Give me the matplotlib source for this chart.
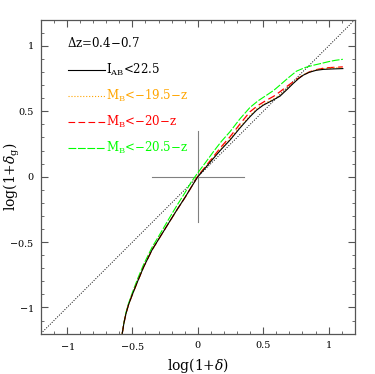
import matplotlib
matplotlib.use('Agg')
import matplotlib.pyplot as plt
import numpy as np
from matplotlib.ticker import MultipleLocator

plt.rcParams['font.family'] = ['DejaVu Serif']
plt.rcParams['mathtext.fontset'] = 'dejavuserif'

# log(1+delta) vs log(1+delta_g)
x_low = [-0.578, -0.565, -0.55, -0.53, -0.5, -0.46, -0.414, -0.35, -0.287, -0.22, -0.16, -0.1, -0.05]
y_iab_low = [-1.2, -1.12, -1.05, -0.98, -0.9, -0.8, -0.69, -0.56, -0.458, -0.35, -0.254, -0.162, -0.08]
y_g_low = [-1.2, -1.115, -1.04, -0.97, -0.885, -0.78, -0.67, -0.54, -0.435, -0.32, -0.22, -0.125, -0.04]

x_iab = x_low + [0.0, 0.06, 0.119, 0.18, 0.246, 0.32, 0.398, 0.45, 0.5, 0.56, 0.627, 0.68,
                 0.728, 0.77, 0.805, 0.85, 0.906, 0.96, 1.0, 1.05, 1.109]
y_iab = y_iab_low + [0.0, 0.07, 0.14, 0.21, 0.28, 0.37, 0.458, 0.51, 0.547, 0.578, 0.615, 0.665,
                     0.712, 0.75, 0.776, 0.798, 0.814, 0.821, 0.823, 0.825, 0.827]

x_m195 = x_iab
y_m195 = y_iab_low + [0.004, 0.075, 0.145, 0.217, 0.288, 0.378, 0.466, 0.518, 0.553, 0.585, 0.62, 0.668,
                      0.715, 0.753, 0.779, 0.801, 0.818, 0.826, 0.829, 0.832, 0.835]

x_m20 = x_low + [0.0, 0.06, 0.119, 0.18, 0.246, 0.32, 0.398, 0.46, 0.525, 0.58, 0.627, 0.68,
                 0.728, 0.77, 0.805, 0.85, 0.906, 0.96, 1.0, 1.05, 1.109]
y_m20 = y_iab_low + [0.005, 0.08, 0.153, 0.23, 0.305, 0.40, 0.496, 0.545, 0.585, 0.615, 0.649, 0.69,
                     0.725, 0.755, 0.776, 0.80, 0.819, 0.83, 0.834, 0.837, 0.840]

x_m205 = x_low + [0.0, 0.06, 0.119, 0.18, 0.246, 0.32, 0.398, 0.46, 0.525, 0.58, 0.627, 0.69,
                  0.754, 0.82, 0.881, 0.95, 1.0, 1.05, 1.109]
y_m205 = y_g_low + [0.03, 0.11, 0.191, 0.27, 0.344, 0.44, 0.529, 0.58, 0.623, 0.66, 0.700, 0.755,
                    0.807, 0.835, 0.852, 0.868, 0.880, 0.89, 0.898]

labels = [r'I$_{\mathregular{AB}}$<22.5', r'M$_{\mathregular{B}}$<$-$19.5$-$z',
          r'M$_{\mathregular{B}}$<$-$20$-$z', r'M$_{\mathregular{B}}$<$-$20.5$-$z']
colors = ['black', 'orange', 'red', 'lime']

fig = plt.figure(figsize=(3.75, 3.74), dpi=100)
ax = fig.add_axes([0.109, 0.108, 0.837, 0.839])

ax.plot([-1.2, 1.2], [-1.2, 1.2], color='black', ls=':', lw=0.7)
ax.plot([-0.35, 0.35], [0, 0], color='gray', lw=0.8)
ax.plot([0, 0], [-0.35, 0.35], color='gray', lw=0.8)

ax.plot(x_m205, y_m205, color=colors[3], lw=0.8, dashes=(7, 1.5))
ax.plot(x_m20, y_m20, color=colors[2], lw=0.9, dashes=(6, 3))
ax.plot(x_m195, y_m195, color=colors[1], lw=0.9, ls=':')
ax.plot(x_iab, y_iab, color=colors[0], lw=0.8)

# legend drawn by hand like the original
ax.text(-1.0, 1.02, r'$\Delta$z=0.4$-$0.7', fontsize=8.5, va='center')
styles = [dict(ls='-'), dict(ls=':'), dict(dashes=(6, 3)), dict(dashes=(7, 1.5))]
rows = [0.815, 0.616, 0.417, 0.218]
for lab, c, st, yr in zip(labels, colors, styles, rows):
    ax.plot([-0.995, -0.713], [yr, yr], color=c, lw=0.8, **st)
    ax.text(-0.705, yr, lab, color=c, fontsize=8.5, va='center')

ax.set_xlim(-1.2, 1.2)
ax.set_ylim(-1.2, 1.2)
ax.xaxis.set_minor_locator(MultipleLocator(0.1))
ax.yaxis.set_minor_locator(MultipleLocator(0.1))
ax.tick_params(which='both', direction='in', top=True, right=True, labelsize=7, color='#555555', pad=5)
ax.tick_params(which='major', length=5)
ax.tick_params(which='minor', length=2.5)
ax.set_xticks([-1, -0.5, 0, 0.5, 1])
ax.set_xticklabels([r'$-$1', r'$-$0.5', '0', '0.5', '1'])
ax.set_yticks([-1, -0.5, 0, 0.5, 1])
ax.set_yticklabels([r'$-$1', r'$-$0.5', '0', '0.5', '1'])
for s in ax.spines.values():
    s.set_color('#555555')
    s.set_linewidth(0.9)

ax.set_xlabel(r'log(1+$\delta$)', fontsize=10, labelpad=3)
ax.set_ylabel(r'log(1+$\delta_{\mathregular{g}}$)', fontsize=10)
ax.yaxis.set_label_coords(-0.06, 0.5)

plt.savefig('out.png', dpi=100)
